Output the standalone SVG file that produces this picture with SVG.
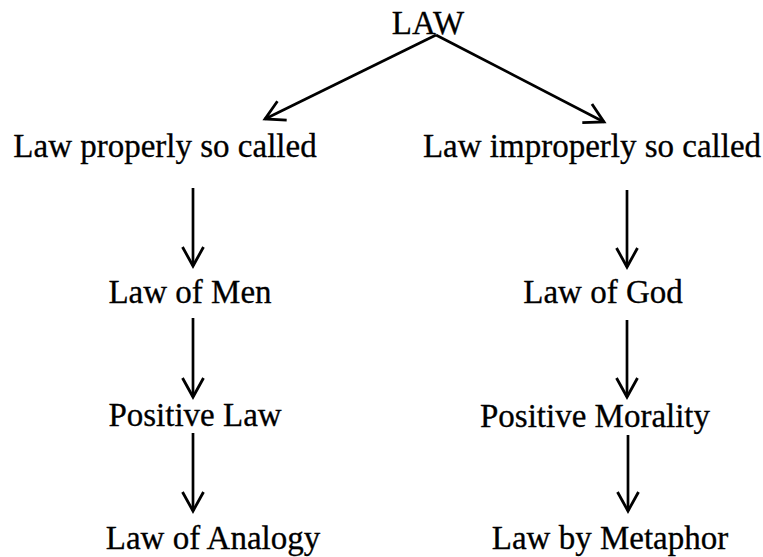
<svg xmlns="http://www.w3.org/2000/svg" width="763" height="557" viewBox="0 0 763 557">
<style>
text{font-family:"Liberation Serif","Times New Roman",serif;font-size:33px;fill:#000;stroke:#000;stroke-width:0.3;text-anchor:middle}
.c{stroke:#000;stroke-width:2.7;fill:none;marker-end:url(#ah)}
</style>
<defs>
<marker id="ah" markerUnits="userSpaceOnUse" markerWidth="30" markerHeight="30" viewBox="-22 -15 30 30" refX="0" refY="0" orient="auto">
<path d="M-19,-10.5 L0,0 L-19,10.5" fill="none" stroke="#000" stroke-width="2.8" stroke-linejoin="miter"/>
</marker>
</defs>
<rect width="763" height="557" fill="#fff"/>
<g id="connectors">
<line class="c" x1="436" y1="35" x2="265" y2="119"/>
<line class="c" x1="436" y1="35" x2="604" y2="122"/>
<line class="c" x1="193" y1="188" x2="193" y2="266"/>
<line class="c" x1="193" y1="318" x2="193" y2="397"/>
<line class="c" x1="193" y1="433" x2="193" y2="511"/>
<line class="c" x1="627" y1="190" x2="627" y2="267"/>
<line class="c" x1="627" y1="320" x2="627" y2="397"/>
<line class="c" x1="628" y1="435" x2="628" y2="511"/>
</g>
<g id="n-law"><text x="428" y="34" font-size="29">LAW</text></g>
<g id="n-proper"><text x="165" y="157">Law properly so called</text></g>
<g id="n-improper"><text x="592" y="157">Law improperly so called</text></g>
<g id="n-men"><text x="190" y="303">Law of Men</text></g>
<g id="n-positive-law"><text x="195" y="426">Positive Law</text></g>
<g id="n-analogy"><text x="213" y="549">Law of Analogy</text></g>
<g id="n-god"><text x="603" y="303">Law of God</text></g>
<g id="n-morality"><text x="595" y="427">Positive Morality</text></g>
<g id="n-metaphor"><text x="610" y="549">Law by Metaphor</text></g>
</svg>
